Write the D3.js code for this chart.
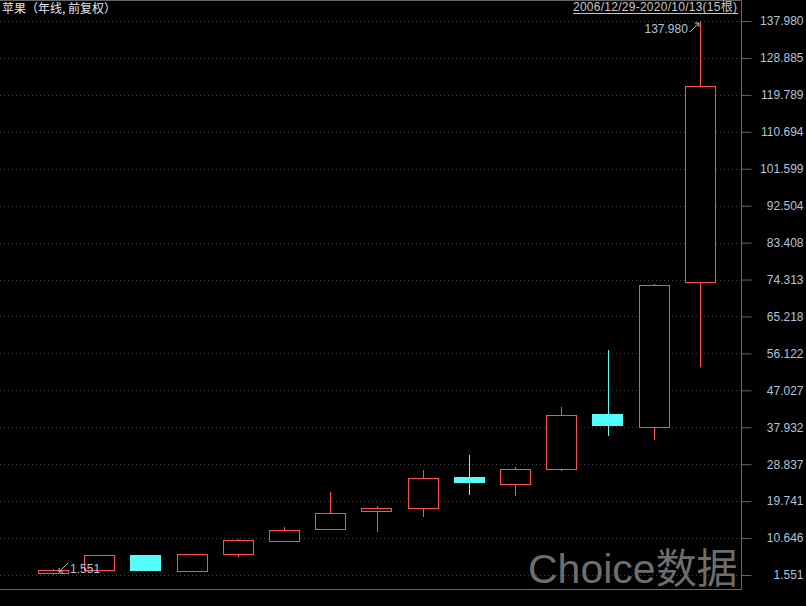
<!DOCTYPE html>
<html>
<head>
<meta charset="utf-8">
<script src="https://cdn.jsdelivr.net/npm/d3@7"></script>
<style>
  html, body { margin: 0; padding: 0; background: #000; }
  svg { display: block; }
  text { font-family: "Liberation Sans", Arial, "Noto Sans CJK SC", sans-serif; }
</style>
</head>
<body>
<svg id="chart" width="806" height="606"></svg>
<script>
const years = ['2006','2007','2008','2009','2010','2011','2012','2013','2014','2015','2016','2017','2018','2019','2020'];
const opens  = [2.04, 2.86, 6.48, 2.61, 6.65, 10.00, 12.81, 17.24, 17.98, 25.68, 23.89, 27.58, 41.20, 37.92, 73.63];
const highs  = [3.03, 6.50, 6.50, 6.75, 10.42, 13.37, 21.99, 18.54, 27.41, 31.10, 28.15, 42.92, 56.96, 73.29, 137.98];
const lows   = [1.551, 2.54, 2.54, 2.61, 6.06, 9.75, 12.81, 12.21, 15.91, 21.33, 21.08, 27.24, 35.85, 34.87, 52.85];
const closes = [2.78, 6.48, 2.86, 6.72, 10.10, 12.56, 16.75, 17.98, 25.37, 24.53, 27.58, 40.88, 38.56, 72.97, 121.90];
const tickLabels = ['137.980','128.885','119.789','110.694','101.599','92.504','83.408','74.313',
                    '65.218','56.122','47.027','37.932','28.837','19.741','10.646','1.551'];
const title = '苹果（年线, 前复权）';
const rangeText = '2006/12/29-2020/10/13(15根)';

const UP = '#ff5050', DOWN = '#54fcfc', LABEL = '#b4c4d8', GRID = '#444';

const svg = d3.select('#chart');
const axisX = 741.5, bottomY = 589.5;

const x = d3.scaleBand().domain(years).range([30, 723]).paddingInner(0.35).paddingOuter(0.175);
const y = d3.scaleLinear().domain([1.551, 137.98]).range([575, 21]);

const candles = years.map((yr, i) => ({ yr, o: opens[i], h: highs[i], l: lows[i], c: closes[i] }));

// frame
svg.append('line').attr('x1', 0).attr('x2', axisX).attr('y1', 0.5).attr('y2', 0.5).attr('stroke', '#666');
svg.append('line').attr('x1', 0).attr('x2', axisX).attr('y1', bottomY).attr('y2', bottomY).attr('stroke', '#666');
svg.append('line').attr('x1', axisX).attr('x2', axisX).attr('y1', 0).attr('y2', bottomY).attr('stroke', '#666');

// dotted grid
svg.append('g').selectAll('line').data(tickLabels).join('line')
  .attr('x1', 0).attr('x2', axisX - 1)
  .attr('y1', d => Math.round(y(+d)) + 0.5).attr('y2', d => Math.round(y(+d)) + 0.5)
  .attr('stroke', GRID).attr('stroke-dasharray', '1,3');

// watermark
const wm = svg.append('text').attr('x', 528).attr('y', 583).attr('fill', '#6e6e6e')
  .style('font-size', '41px');
wm.append('tspan').text('Choice');
wm.append('tspan').style('font-family', '"Noto Sans CJK SC", sans-serif').text('数据');

// right axis
const axis = d3.axisRight(y).tickValues(tickLabels.map(Number)).tickSize(10)
  .tickFormat((d, i) => tickLabels[i]);
const gAxis = svg.append('g').attr('transform', `translate(${axisX},0)`).call(axis);
gAxis.select('.domain').remove();
gAxis.selectAll('.tick line').attr('stroke', '#666');
gAxis.selectAll('.tick text')
  .attr('x', 62).attr('text-anchor', 'end')
  .attr('fill', LABEL).style('font-size', '12px')
  .style('font-family', '"Liberation Sans", Arial, sans-serif');

// candles
const bw = x.bandwidth();
const g = svg.append('g').attr('shape-rendering', 'crispEdges');
candles.forEach(d => {
  const cx = Math.round(x(d.yr) + bw / 2) + 0.5;
  const left = Math.round(x(d.yr)) + 0.5;
  const up = d.c >= d.o;
  const top = Math.round(y(Math.max(d.o, d.c))) + 0.5;
  const bot = Math.round(y(Math.min(d.o, d.c))) + 0.5;
  const col = up ? UP : DOWN;
  g.append('line').attr('x1', cx).attr('x2', cx)
    .attr('y1', Math.round(y(d.h))).attr('y2', top).attr('stroke', col);
  g.append('line').attr('x1', cx).attr('x2', cx)
    .attr('y1', bot).attr('y2', Math.round(y(d.l))).attr('stroke', col);
  if (up) {
    g.append('rect').attr('x', left).attr('y', top)
      .attr('width', Math.round(bw)).attr('height', Math.max(bot - top, 1))
      .attr('fill', '#000').attr('stroke', col);
  } else {
    g.append('rect').attr('x', left - 0.5).attr('y', top - 0.5)
      .attr('width', Math.round(bw) + 1).attr('height', Math.max(bot - top, 1) + 1)
      .attr('fill', col);
  }
});

// max / min annotations
const last = candles[candles.length - 1], first = candles[0];
const hx = x(last.yr) + bw / 2, hy = y(last.h);
svg.append('text').attr('x', hx - 12).attr('y', hy + 12).attr('text-anchor', 'end')
  .attr('fill', LABEL).style('font-size', '12px').text(d3.format('.3f')(last.h));
svg.append('path')
  .attr('d', `M${hx - 10},${hy + 11}L${hx - 1},${hy + 2}M${hx - 5},${hy + 2}L${hx - 1},${hy + 2}L${hx - 1},${hy + 6}`)
  .attr('stroke', '#ccc').attr('fill', 'none');

const lx = x(first.yr) + bw / 2, ly = y(first.l);
svg.append('path')
  .attr('d', `M${lx + 15},${ly - 12}L${lx + 6},${ly - 3}M${lx + 6},${ly - 7}L${lx + 6},${ly - 3}L${lx + 10},${ly - 3}`)
  .attr('stroke', '#ccc').attr('fill', 'none');
svg.append('text').attr('x', lx + 17).attr('y', ly - 2)
  .attr('fill', LABEL).style('font-size', '12px').text(d3.format('.3f')(first.l));

// title and range
svg.append('text').attr('x', 2).attr('y', 13).attr('fill', '#e8e8e8')
  .style('font-size', '12px').style('font-family', '"Noto Sans CJK SC", sans-serif').text(title);
svg.append('text').attr('x', 573).attr('y', 11)
  .attr('textLength', 164).attr('lengthAdjust', 'spacing')
  .attr('fill', '#c8c8c8').style('font-size', '12px')
  .style('font-family', '"Liberation Sans", "Noto Sans CJK SC", sans-serif').text(rangeText);
svg.append('line').attr('x1', 573).attr('x2', 738).attr('y1', 13.5).attr('y2', 13.5).attr('stroke', '#c8c8c8');
</script>
</body>
</html>
